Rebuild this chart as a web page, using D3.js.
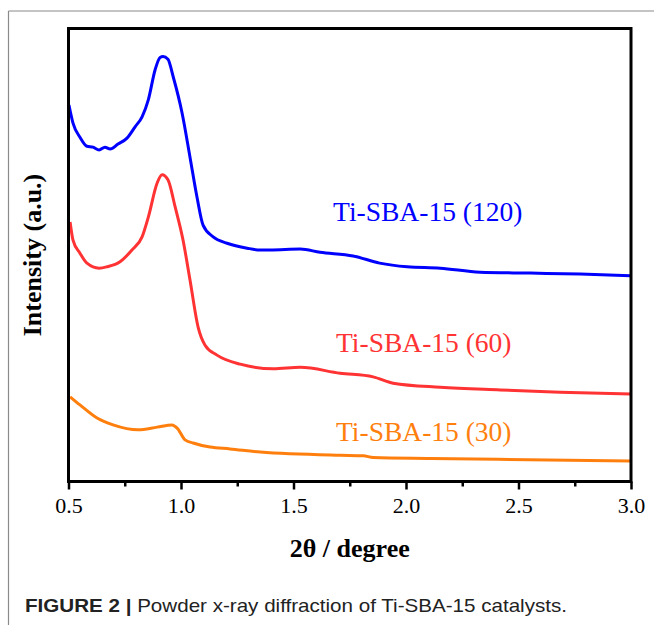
<!DOCTYPE html>
<html>
<head>
<meta charset="utf-8">
<script src="https://cdn.jsdelivr.net/npm/d3@7"></script>
<style>
  body { margin: 0; background: #fff; }
  svg { display: block; }
</style>
</head>
<body>
<div id="chart"></div>
<script>
// 2theta positions and intensities (a.u.)
const blueX = [0.502, 0.52, 0.551, 0.582, 0.609, 0.636, 0.662, 0.685, 0.72, 0.76, 0.796, 0.827, 0.855, 0.885, 0.907, 0.92, 0.942, 0.965, 1.005, 1.04, 1.071, 1.098, 1.143, 1.205, 1.294, 1.352, 1.396, 1.53, 1.618, 1.765, 1.883, 2.005, 2.152, 2.329, 2.552, 2.774, 2.997]
const blueY = [83.1, 79.1, 76.0, 74.0, 73.8, 73.2, 73.8, 73.4, 74.5, 75.8, 78.3, 80.5, 84.3, 90.9, 93.6, 93.8, 93.2, 89.4, 81.3, 71.6, 62.8, 56.6, 54.0, 52.6, 51.5, 51.1, 51.1, 51.3, 50.6, 49.8, 48.2, 47.4, 47.1, 46.2, 46.0, 45.8, 45.4]

const redX = [0.507, 0.52, 0.551, 0.582, 0.636, 0.671, 0.729, 0.782, 0.827, 0.855, 0.894, 0.916, 0.942, 0.974, 1.009, 1.04, 1.076, 1.107, 1.16, 1.263, 1.41, 1.53, 1.707, 1.854, 1.943, 2.152, 2.419, 2.685, 3.0]
const redY = [57.3, 53.3, 50.4, 48.2, 47.1, 47.4, 48.5, 51.1, 54.0, 58.4, 65.9, 67.7, 66.6, 60.6, 53.3, 44.5, 34.1, 30.1, 27.9, 25.9, 24.9, 25.2, 23.9, 23.1, 21.7, 20.8, 20.2, 19.7, 19.3]

const orangeX = [0.507, 0.551, 0.627, 0.698, 0.809, 0.894, 0.96, 0.983, 1.018, 1.054, 1.129, 1.218, 1.352, 1.707, 1.81, 1.854, 2.108, 2.406, 2.997]
const orangeY = [18.7, 16.9, 14.0, 12.5, 11.4, 12.0, 12.5, 11.8, 9.2, 8.5, 7.6, 7.2, 6.5, 5.8, 5.7, 5.3, 5.1, 4.9, 4.5]

const seriesNames = ["Ti-SBA-15 (120)", "Ti-SBA-15 (60)", "Ti-SBA-15 (30)"]
const xTicks = [0.5, 1.0, 1.5, 2.0, 2.5, 3.0]

const W = 654, H = 625
const plot = {left: 68.5, right: 631, top: 28.5, bottom: 481.5}

const svg = d3.select("#chart").append("svg")
  .attr("width", W)
  .attr("height", H)

// figure frame (left + top only)
svg.append("line")
  .attr("x1", 8.5).attr("y1", 11).attr("x2", 8.5).attr("y2", H)
  .attr("stroke", "#8a8a8a").attr("stroke-width", 1.2)
svg.append("line")
  .attr("x1", 8.5).attr("y1", 11).attr("x2", W).attr("y2", 11)
  .attr("stroke", "#8a8a8a").attr("stroke-width", 1.2)

const x = d3.scaleLinear().domain([0.5, 3.0]).range([plot.left, plot.right])
const y = d3.scaleLinear().domain([0, 100]).range([plot.bottom, plot.top])

const series = [
  {name: seriesNames[0], xs: blueX, ys: blueY, color: "#0000ff", lx: 1.676, ly: 57.6},
  {name: seriesNames[1], xs: redX, ys: redY, color: "#ff3333", lx: 1.689, ly: 28.6},
  {name: seriesNames[2], xs: orangeX, ys: orangeY, color: "#ff7f0e", lx: 1.689, ly: 9.0}
]

const line = d3.line()
  .x(d => x(d[0]))
  .y(d => y(d[1]))
  .curve(d3.curveMonotoneX)

series.forEach(s => {
  svg.append("path")
    .datum(s.xs.map((v, i) => [v, s.ys[i]]))
    .attr("fill", "none")
    .attr("stroke", s.color)
    .attr("stroke-width", 3)
    .attr("stroke-linejoin", "round")
    .attr("d", line)

  svg.append("text")
    .attr("x", x(s.lx))
    .attr("y", y(s.ly))
    .attr("fill", s.color)
    .attr("font-family", "'Liberation Serif', 'Times New Roman', serif")
    .attr("font-size", 27.5)
    .text(s.name)
})

// x axis with minor ticks
const minor = d3.range(0.75, 3.0, 0.5)
svg.append("g")
  .attr("transform", `translate(0,${plot.bottom})`)
  .call(d3.axisBottom(x).tickValues(minor).tickSize(5).tickFormat(""))
  .call(g => g.select(".domain").remove())
  .call(g => g.selectAll("line").attr("stroke", "#000").attr("stroke-width", 2.5))

svg.append("g")
  .attr("transform", `translate(0,${plot.bottom})`)
  .call(d3.axisBottom(x).tickValues(xTicks).tickSize(8).tickPadding(8).tickFormat(d3.format(".1f")))
  .call(g => g.select(".domain").remove())
  .call(g => g.selectAll("line").attr("stroke", "#000").attr("stroke-width", 2.5))
  .call(g => g.selectAll("text")
    .attr("fill", "#000")
    .attr("font-family", "'Liberation Serif', 'Times New Roman', serif")
    .attr("font-size", 22))

// plot frame
svg.append("rect")
  .attr("x", plot.left).attr("y", plot.top)
  .attr("width", plot.right - plot.left)
  .attr("height", plot.bottom - plot.top)
  .attr("fill", "none")
  .attr("stroke", "#000")
  .attr("stroke-width", 3)

// axis titles
svg.append("text")
  .attr("x", (plot.left + plot.right) / 2)
  .attr("y", 557)
  .attr("text-anchor", "middle")
  .attr("font-family", "'Liberation Serif', 'Times New Roman', serif")
  .attr("font-weight", "bold")
  .attr("font-size", 26)
  .text("2θ / degree")

svg.append("text")
  .attr("transform", `translate(41,${(plot.top + plot.bottom) / 2}) rotate(-90)`)
  .attr("text-anchor", "middle")
  .attr("font-family", "'Liberation Serif', 'Times New Roman', serif")
  .attr("font-weight", "bold")
  .attr("font-size", 26)
  .text("Intensity (a.u.)")

// caption
const cap = svg.append("text")
  .attr("x", 25)
  .attr("y", 612)
  .attr("font-family", "'Liberation Sans', Arial, sans-serif")
  .attr("font-size", 18.5)
  .attr("fill", "#222")
  .attr("textLength", 542)
  .attr("lengthAdjust", "spacingAndGlyphs")
cap.append("tspan").attr("font-weight", "bold").text("FIGURE 2 | ")
cap.append("tspan").text("Powder x-ray diffraction of Ti-SBA-15 catalysts.")
</script>
</body>
</html>
